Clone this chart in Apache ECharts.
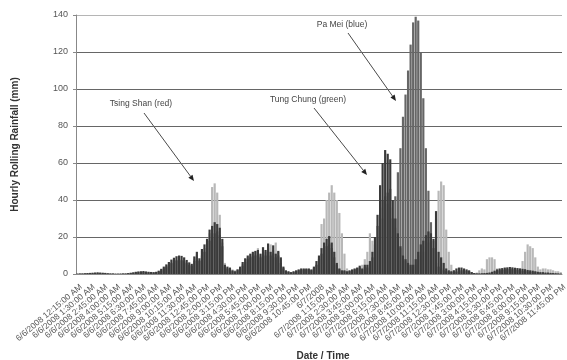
<!DOCTYPE html>
<html>
<head>
<meta charset="utf-8">
<script src="https://cdn.jsdelivr.net/npm/echarts@6/dist/echarts.min.js"></script>
<style>
  html, body { margin: 0; padding: 0; background: #ffffff; }
  #chart { width: 567px; height: 360px; }
</style>
</head>
<body>
<div id="chart"></div>
<script>
// Hourly rolling rainfall at three gauges, 15-minute steps, 6/6/2008 00:15 to 6/7/2008 23:45

// Category labels: one per 15-minute reading
const startMinutes = 15;
const stepMinutes = 15;
const readingCount = 191;
const labelEvery = 5;
const timeLabels = [];
for (let i = 0; i < readingCount; i++) {
  const total = startMinutes + stepMinutes * i;
  const day = 6 + Math.floor(total / 1440);
  const m = total % 1440;
  if (m === 0) {
    timeLabels.push('6/' + day + '/2008');
  } else {
    const h24 = Math.floor(m / 60);
    const mm = m % 60;
    const h12 = (h24 % 12) || 12;
    const ampm = h24 < 12 ? 'AM' : 'PM';
    timeLabels.push('6/' + day + '/2008 ' + h12 + ':' + (mm < 10 ? '0' : '') + mm + ':00 ' + ampm);
  }
}

// Tsing Shan (red) – mm
const tsingShan = [
  0.1,0.1,0.2,0.2,0.3,0.3,0.4,0.5,0.5,0.4,
  0.4,0.3,0.2,0.2,0.1,0.1,0.1,0.1,0.2,0.2,
  0.3,0.4,0.5,0.7,0.8,0.9,1.0,0.9,0.8,0.7,
  0.7,0.8,1.2,1.8,2.5,3.5,4.5,5.5,6.5,7.0,
  7.5,7.0,6.5,5.5,4.5,4.0,8.0,10.5,7.5,12.5,
  14.0,17.0,22.0,47.0,49.0,44.0,32.0,17.0,6.0,3.0,
  2.0,2.5,2.0,2.5,3.5,5.5,8.0,9.0,10.0,11.0,
  12.0,14.0,10.0,13.0,12.0,14.0,16.0,13.0,17.0,12.0,
  8.0,3.5,1.5,1.0,1.0,1.0,1.5,2.0,2.5,2.5,
  2.5,2.5,2.0,3.0,5.0,9.0,27.0,30.0,40.0,44.0,
  48.0,44.0,40.0,33.0,22.0,11.0,3.0,1.5,2.0,2.5,
  3.0,3.5,5.0,8.0,12.0,22.0,18.0,14.0,20.0,30.0,
  30.0,35.0,38.0,36.0,30.0,25.0,20.0,14.0,9.0,7.0,
  5.0,4.0,4.0,5.0,8.0,10.0,12.0,15.0,17.0,18.0,
  18.0,30.0,45.0,50.0,48.0,24.0,12.0,5.0,2.0,1.5,
  1.0,1.0,1.0,0.5,0.5,0.3,0.3,0.8,2.0,3.0,
  2.5,8.0,9.0,9.0,8.0,3.0,2.5,2.5,3.0,3.0,
  3.0,3.0,3.0,3.0,3.0,7.0,12.0,16.0,15.0,14.0,
  9.0,4.0,2.5,3.0,3.0,2.5,2.5,2.0,1.5,1.5,1.0
];

// Pa Mei (blue) – mm
const paMei = [
  0.1,0.2,0.2,0.3,0.4,0.5,0.5,0.6,0.6,0.5,
  0.5,0.4,0.3,0.2,0.2,0.1,0.1,0.2,0.2,0.2,
  0.3,0.5,0.7,0.9,1.0,1.1,1.2,1.0,0.9,0.8,
  0.8,0.9,1.3,2.0,3.0,4.0,5.0,6.0,7.0,7.5,
  8.0,7.5,7.0,6.0,5.0,4.5,7.0,9.0,7.0,10.0,
  12.0,14.0,18.0,20.0,22.0,23.0,21.0,15.0,4.0,3.0,
  2.5,1.5,1.0,2.0,3.0,4.5,6.5,8.0,9.0,9.5,
  10.0,10.5,9.0,11.0,10.0,12.0,10.0,11.0,9.0,10.0,
  6.0,3.0,1.5,1.0,0.8,1.0,1.5,2.0,2.0,2.5,
  2.5,2.5,2.0,3.0,5.0,8.0,11.0,13.0,15.0,16.0,
  14.0,9.0,5.0,2.5,1.5,1.5,1.0,1.5,2.0,2.5,
  3.0,3.5,2.5,4.0,3.5,5.0,9.0,16.0,26.0,36.0,
  40.0,42.0,44.0,46.0,30.0,42.0,55.0,68.0,85.0,97.0,
  110.0,124.0,136.0,139.0,137.0,120.0,95.0,68.0,45.0,28.0,
  14.0,6.0,4.0,3.0,2.0,1.5,1.2,1.0,1.0,1.2,
  1.5,2.0,2.0,1.8,1.5,1.0,0.5,0.3,0.2,0.2,
  0.3,0.4,0.5,0.8,1.2,1.6,2.0,2.2,2.4,2.5,
  2.6,2.5,2.4,2.2,2.0,1.8,1.6,1.4,1.2,1.0,
  0.9,0.8,0.7,0.6,0.5,0.5,0.4,0.3,0.3,0.2,0.1
];

// Tung Chung (green) – mm
const tungChung = [
  0.2,0.3,0.3,0.4,0.5,0.6,0.7,0.8,0.9,0.8,
  0.7,0.6,0.4,0.3,0.3,0.2,0.2,0.2,0.3,0.3,
  0.5,0.7,0.9,1.2,1.4,1.5,1.6,1.4,1.2,1.1,
  1.0,1.2,1.8,2.8,4.0,5.2,6.5,7.8,8.8,9.6,
  10.0,9.8,9.0,7.6,6.3,5.5,9.5,12.0,8.5,13.5,
  16.0,19.0,24.0,26.0,28.0,27.0,25.0,19.0,5.0,4.0,
  3.5,2.0,1.5,2.5,4.0,6.5,8.5,10.0,11.0,12.0,
  12.5,13.0,11.0,14.5,13.0,16.5,12.0,15.5,11.0,12.5,
  9.0,4.0,2.0,1.5,1.0,1.5,2.0,2.5,3.0,3.0,
  3.0,3.0,2.5,4.0,7.0,10.0,14.0,17.0,19.0,20.5,
  17.0,12.0,6.0,3.0,2.0,2.0,1.5,2.0,2.5,3.0,
  3.5,4.5,3.0,5.0,5.0,7.0,12.0,20.0,32.0,48.0,
  60.0,67.0,65.0,62.0,40.0,30.0,22.0,15.0,10.0,8.0,
  6.0,5.0,5.0,8.0,12.0,16.0,18.0,21.0,23.0,22.0,
  19.0,34.0,12.0,9.0,6.0,3.0,2.0,1.5,2.0,3.0,
  3.5,3.5,3.0,2.5,2.0,1.0,0.5,0.3,0.3,0.4,
  0.5,0.6,0.8,1.2,1.8,2.5,3.0,3.2,3.5,3.6,
  3.8,3.6,3.4,3.2,3.0,2.8,2.6,2.2,2.0,1.8,
  1.5,1.2,1.0,1.0,0.8,0.8,0.6,0.5,0.4,0.3,0.2
];

// Y axis ticks
const yMin = 0, yMax = 140, yStep = 20;

const FONT = '"Liberation Sans", Arial, sans-serif';

// Annotation callouts: text position and arrow (pixel layout)
const callouts = [
  { text: 'Tsing Shan (red)',   tx: 141, ty: 104, from: [144, 113], to: [194, 181] },
  { text: 'Tung Chung (green)', tx: 308, ty: 100, from: [314, 108], to: [367, 175] },
  { text: 'Pa Mei (blue)',      tx: 342, ty: 25,  from: [348, 33],  to: [396, 101] }
];

function calloutGraphics(c) {
  const [x1, y1] = c.from, [x2, y2] = c.to;
  const a = Math.atan2(y2 - y1, x2 - x1);
  const L = 6, W = 2.6;
  const bx = x2 - L * Math.cos(a), by = y2 - L * Math.sin(a);
  return [
    { type: 'text', x: c.tx, y: c.ty,
      style: { text: c.text, fill: '#444', font: '8.5px ' + FONT, align: 'center', verticalAlign: 'middle' } },
    { type: 'line', shape: { x1: x1, y1: y1, x2: bx, y2: by },
      style: { stroke: '#4a4a4a', lineWidth: 1 } },
    { type: 'polygon', shape: { points: [
        [x2, y2],
        [bx - W * Math.sin(a), by + W * Math.cos(a)],
        [bx + W * Math.sin(a), by - W * Math.cos(a)]
      ] }, style: { fill: '#222' } }
  ];
}

const graphics = [
  // horizontal axis title
  { type: 'text', x: 323, y: 356,
    style: { text: 'Date / Time', fill: '#333', font: 'bold 10px ' + FONT, align: 'center', verticalAlign: 'middle' } }
];
callouts.forEach(c => calloutGraphics(c).forEach(g => graphics.push(g)));

const chart = echarts.init(document.getElementById('chart'), null, { renderer: 'canvas' });

const barCommon = {
  type: 'bar',
  barWidth: '86%',
  barGap: '-100%',
  animation: false
};

chart.setOption({
  animation: false,
  backgroundColor: '#ffffff',
  grid: { left: 76, right: 5, top: 15, bottom: 86, containLabel: false },
  xAxis: {
    type: 'category',
    data: timeLabels,
    boundaryGap: true,
    axisLine: { lineStyle: { color: '#888', width: 1 } },
    axisTick: { interval: 11, length: 3, lineStyle: { color: '#888' } },
    // every category label is laid out below as rotated text so none is dropped
    axisLabel: { show: false },
    splitLine: { show: false }
  },
  yAxis: {
    type: 'value',
    min: yMin, max: yMax, interval: yStep,
    name: 'Hourly Rolling Rainfall (mm)',
    nameLocation: 'middle',
    nameGap: 56,
    nameRotate: 90,
    nameTextStyle: { fontFamily: FONT, fontSize: 10, fontWeight: 'bold', color: '#333' },
    axisLine: { show: true, lineStyle: { color: '#888', width: 1 } },
    axisTick: { show: true, length: 3, lineStyle: { color: '#888' } },
    axisLabel: { fontFamily: FONT, fontSize: 9, color: '#555', margin: 8 },
    splitLine: { show: true, lineStyle: { color: ['#888', '#666', '#666', '#666', '#666', '#666', '#666', '#b5b5b5'], width: 1 } }
  },
  series: [
    Object.assign({ name: 'Tsing Shan', data: tsingShan, itemStyle: { color: '#b8b8b8' } }, barCommon),
    Object.assign({ name: 'Pa Mei', data: paMei, itemStyle: { color: '#666666' } }, barCommon),
    Object.assign({ name: 'Tung Chung', data: tungChung, itemStyle: { color: '#3a3a3a' } }, barCommon)
  ],
  graphic: graphics
});

// Rotated time labels, one every labelEvery readings, placed through the category axis
const baseY = chart.convertToPixel({ yAxisIndex: 0 }, yMin);
const labelGraphics = [];
for (let i = 0; i < readingCount; i += labelEvery) {
  const px = chart.convertToPixel({ xAxisIndex: 0 }, timeLabels[i]);
  labelGraphics.push({
    type: 'text',
    x: px + 4,
    y: baseY + 12,
    rotation: 40 * Math.PI / 180,
    style: {
      text: timeLabels[i], fill: '#555', font: '8.5px ' + FONT,
      align: 'right', verticalAlign: 'middle'
    }
  });
}
chart.setOption({ graphic: graphics.concat(labelGraphics) });
</script>
</body>
</html>
